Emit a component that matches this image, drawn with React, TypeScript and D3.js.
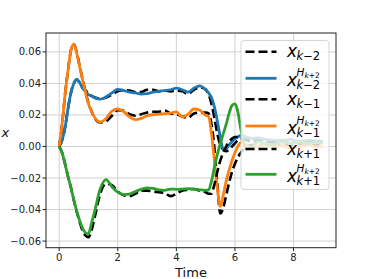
import React from "react";
import * as d3 from "d3";

// time grid shared by every series
const times = [
  0, 0.1, 0.2, 0.3, 0.4, 0.5, 0.6, 0.7, 0.8, 0.9, 1.0, 1.1, 1.2,
  1.4, 1.6, 1.8, 2.0, 2.2, 2.4, 2.6, 2.8, 3.0, 3.2, 3.4, 3.6, 3.8, 4.0, 4.2, 4.4, 4.6, 4.8, 5.0,
  5.1, 5.2, 5.3, 5.4, 5.5, 5.6, 5.7, 5.8, 5.9, 6.0, 6.1, 6.2,
  6.4, 6.6, 6.8, 7.0, 7.3, 7.6, 7.9, 8.2, 8.5, 8.8, 9.0,
];

const xkm2 = [
  0, 0.004, 0.012, 0.024, 0.034, 0.04, 0.0425, 0.0405, 0.0372, 0.0355, 0.0337, 0.0322, 0.0312,
  0.0303, 0.031, 0.033, 0.035, 0.0358, 0.0355, 0.0345, 0.0345, 0.036, 0.036, 0.035, 0.0355, 0.035, 0.0355, 0.035, 0.0333, 0.036, 0.0375, 0.0362,
  0.033, 0.027, 0.018, 0.008, 0.001, -0.002, -0.003, -0.002, 0.0, 0.002, 0.004, 0.005,
  0.005, 0.004, 0.0045, 0.004, 0.0035, 0.004, 0.003, 0.0035, 0.004, 0.003, 0.003,
];
const xkm2H = [
  0, 0.004, 0.012, 0.024, 0.034, 0.04, 0.0425, 0.0405, 0.037, 0.035, 0.033, 0.032, 0.031,
  0.03, 0.0315, 0.034, 0.0362, 0.0355, 0.0345, 0.034, 0.0333, 0.0335, 0.0345, 0.035, 0.0355, 0.036, 0.037, 0.036, 0.0345, 0.037, 0.0385, 0.036,
  0.034, 0.031, 0.025, 0.016, 0.006, -0.002, -0.0015, 0.001, 0.003, 0.005, 0.006, 0.007,
  0.006, 0.005, 0.0055, 0.0045, 0.004, 0.0035, 0.0045, 0.003, 0.004, 0.0035, 0.003,
];
const xkm1 = [
  0, 0.014, 0.033, 0.048, 0.061, 0.065, 0.0595, 0.051, 0.0425, 0.0345, 0.0275, 0.0225, 0.0185,
  0.0152, 0.016, 0.0195, 0.023, 0.0228, 0.0205, 0.0195, 0.0205, 0.0215, 0.022, 0.022, 0.0228, 0.021, 0.0205, 0.019, 0.0182, 0.021, 0.0215, 0.0215,
  0.021, 0.014, -0.001, -0.024, -0.0425, -0.039, -0.031, -0.023, -0.016, -0.011, -0.007, -0.004,
  0.0, 0.001, 0.0005, 0.0015, 0.0, 0.001, 0.0005, 0.0015, 0.0005, 0.001, 0.0,
];
const xkm1H = [
  0, 0.014, 0.033, 0.048, 0.061, 0.065, 0.059, 0.0505, 0.042, 0.034, 0.027, 0.0225, 0.0188,
  0.0155, 0.0178, 0.0225, 0.0238, 0.0222, 0.0188, 0.017, 0.0178, 0.0195, 0.0202, 0.0205, 0.0208, 0.0212, 0.022, 0.0188, 0.0205, 0.0238, 0.023, 0.0198,
  0.019, 0.008, -0.009, -0.027, -0.038, -0.031, -0.022, -0.015, -0.009, -0.004, 0.0, 0.0025,
  0.001, -0.001, 0.0, 0.001, -0.0005, 0.0005, -0.001, 0.0, 0.001, -0.0005, 0.0,
];
const xkp1 = [
  0, -0.004, -0.011, -0.019, -0.026, -0.034, -0.0415, -0.048, -0.0535, -0.0565, -0.0575, -0.0535, -0.046,
  -0.03, -0.0235, -0.0245, -0.0285, -0.031, -0.0315, -0.03, -0.028, -0.028, -0.0285, -0.029, -0.0295, -0.0315, -0.03, -0.028, -0.0275, -0.027, -0.028, -0.029,
  -0.03, -0.03, -0.024, -0.016, -0.009, -0.004, 0.0, 0.003, 0.005, 0.006, 0.006, 0.005,
  0.004, 0.003, 0.0035, 0.003, 0.0025, 0.003, 0.002, 0.003, 0.0025, 0.003, 0.002,
];
const xkp1H = [
  0, -0.004, -0.011, -0.019, -0.026, -0.034, -0.041, -0.047, -0.052, -0.0548, -0.0553, -0.049, -0.042,
  -0.027, -0.021, -0.0255, -0.029, -0.0305, -0.0302, -0.0285, -0.0272, -0.0263, -0.0265, -0.0275, -0.0278, -0.027, -0.0272, -0.027, -0.0268, -0.027, -0.0275, -0.0278,
  -0.0275, -0.022, -0.013, -0.005, 0.002, 0.008, 0.014, 0.021, 0.026, 0.027, 0.022, 0.011,
  -0.002, 0.0, 0.003, 0.002, 0.001, 0.003, 0.002, 0.003, 0.002, 0.0025, 0.002,
];

const xTicks = [0, 2, 4, 6, 8];
const yTicks = [-0.06, -0.04, -0.02, 0.0, 0.02, 0.04, 0.06];

// legend: sub = subscript text, sup = true when it carries H_{k+2}
const series = [
  { values: xkm2, color: "#000", dashed: true, sub: "\u22122", sup: false },
  { values: xkm2H, color: "#1f77b4", dashed: false, sub: "\u22122", sup: true },
  { values: xkm1, color: "#000", dashed: true, sub: "\u22121", sup: false },
  { values: xkm1H, color: "#ff7f0e", dashed: false, sub: "\u22121", sup: true },
  { values: xkp1, color: "#000", dashed: true, sub: "+1", sup: false },
  { values: xkp1H, color: "#2ca02c", dashed: false, sub: "+1", sup: true },
];
const legendRows = [51.7, 78.3, 99.3, 126, 149, 174.3];

const W = 374;
const H = 279;
const left = 46, right = 336, top = 33, bottom = 247.7;

export default function App() {
  const x = d3.scaleLinear().domain([-0.45, 9.45]).range([left, right]);
  const y = d3.scaleLinear().domain([-0.0642, 0.072]).range([bottom, top]);
  const line = d3
    .line<number>()
    .x((_, i) => x(times[i]))
    .y((d) => y(d))
    .curve(d3.curveMonotoneX);

  return (
    <svg
      width={W}
      height={H}
      style={{ position: "absolute", left: 0, top: 0, background: "#fff" }}
      fontFamily="DejaVu Sans"
    >
      <defs>
        <clipPath id="plot">
          <rect x={left} y={top} width={right - left} height={bottom - top} />
        </clipPath>
      </defs>
      {/* grid */}
      <g stroke="#d0d0d0" strokeWidth={1}>
        {xTicks.map((t) => (
          <line key={"gx" + t} x1={x(t)} x2={x(t)} y1={top} y2={bottom} />
        ))}
        {yTicks.map((t) => (
          <line key={"gy" + t} x1={left} x2={right} y1={y(t)} y2={y(t)} />
        ))}
      </g>
      {/* series */}
      <g clipPath="url(#plot)" fill="none">
        {series.map((s, i) => (
          <path
            key={i}
            d={line(s.values) || ""}
            stroke={s.color}
            strokeWidth={s.dashed ? 2.6 : 2.8}
            strokeDasharray={s.dashed ? "9,4" : undefined}
          />
        ))}
      </g>
      {/* frame */}
      <rect x={left} y={top} width={right - left} height={bottom - top} fill="none" stroke="#222" strokeWidth={1} />
      {xTicks.map((t) => (
        <g key={"tx" + t}>
          <line x1={x(t)} x2={x(t)} y1={bottom} y2={bottom + 3.5} stroke="#222" />
          <text x={x(t)} y={261} fontSize={10} textAnchor="middle" fill="#222">
            {t}
          </text>
        </g>
      ))}
      {yTicks.map((t) => (
        <g key={"ty" + t}>
          <line x1={left - 3.5} x2={left} y1={y(t)} y2={y(t)} stroke="#222" />
          <text x={41} y={y(t)} dy="0.35em" fontSize={10} textAnchor="end" fill="#222">
            {d3.format(".2f")(t).replace("-", "\u2212")}
          </text>
        </g>
      ))}
      <text x={(left + right) / 2} y={277} fontSize={13} textAnchor="middle" fill="#111">
        Time
      </text>
      <text x={1.5} y={136.5} fontSize={13} fontStyle="italic" fill="#111">
        x
      </text>
      {/* legend */}
      <rect x={241} y={40.5} width={88} height={149} rx={3} fill="#fff" fillOpacity={0.8} stroke="#ccc" strokeOpacity={0.8} />
      {series.map((s, i) => {
        const yc = legendRows[i];
        const base = yc + (s.sup ? 7.6 : 5.6);
        return (
          <g key={"lg" + i}>
            <line
              x1={245.5}
              x2={276.5}
              y1={yc}
              y2={yc}
              stroke={s.color}
              strokeWidth={s.dashed ? 2.6 : 2.8}
              strokeDasharray={s.dashed ? "9,4" : undefined}
            />
            <text x={287} y={base} fontSize={17} fill="#000">
              <tspan fontStyle="italic">x</tspan>
              {s.sup && (
                <>
                  <tspan x={296.5} y={yc - 2.2} fontSize={10.5} fontStyle="italic">H</tspan>
                  <tspan y={yc} fontSize={7.5} fontStyle="italic">k</tspan>
                  <tspan fontSize={7.5}>+2</tspan>
                </>
              )}
              <tspan x={296.5} y={yc + (s.sup ? 10.6 : 8.6)} fontSize={11.5} fontStyle="italic">k</tspan>
              <tspan fontSize={11.5}>{s.sub}</tspan>
            </text>
          </g>
        );
      })}
    </svg>
  );
}
